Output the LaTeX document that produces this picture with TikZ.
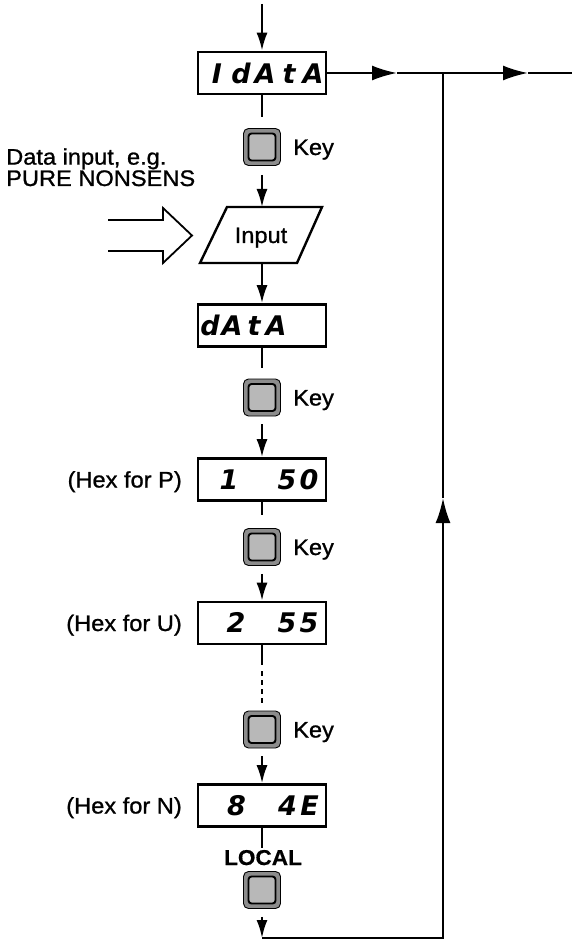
\documentclass[tikz,border=0pt]{standalone}
\usepackage{fontspec}
\setmainfont{Liberation Sans}
\newfontfamily\lab[FakeStretch=1.05,FakeBold=1]{Liberation Sans}
\newfontfamily\labb[FakeStretch=1.05,FakeBold=0.6]{Liberation Sans}
\newfontfamily\segf{DejaVu Sans}
\usetikzlibrary{arrows.meta}
\newcommand\sgc[2]{\makebox[#1]{#2}}
\tikzset{
 disp/.style={draw, line width=2.6pt, minimum width=128pt, minimum height=42pt, inner sep=0pt},
 keyo/.style={draw, line width=0.9pt, rounded corners=5pt, fill=black!45, minimum size=37pt, inner sep=0pt},
 keyi/.style={draw, line width=1.9pt, rounded corners=3pt, fill=black!28, minimum size=27pt, inner sep=0pt},
 ln/.style={line width=2.2pt},
 va/.style={ln, -{Latex[length=18pt,width=11pt]}},
 ha/.style={ln, -{Latex[length=25pt,width=15pt]}},
 lbl/.style={font=\lab\fontsize{22.5}{19.5}\selectfont, inner sep=0pt},
 bl/.style={font=\labb\bfseries\fontsize{21.5}{19}\selectfont, inner sep=0pt},
 seg/.style={font=\segf\bfseries\itshape\fontsize{27}{27}\selectfont, inner sep=0pt},
}
\begin{document}
\begin{tikzpicture}[x=1pt,y=-1pt]
\useasboundingbox (0,0) rectangle (572,949);
% displays
\node[disp] (idata) at (262,73) {};
\node[seg] (idatat) at (265,73) {\sgc{24pt}{I}\sgc{24pt}{d}\sgc{24pt}{A}\sgc{24pt}{t}\sgc{24pt}{A}};
\node[disp] (data) at (262,325.5) {};
\node[seg] (datat) at (243,325.5) {\sgc{22pt}{d}\sgc{22pt}{A}\sgc{22pt}{t}\sgc{22pt}{A}};
\node[disp] (b1) at (262,479.5) {};
\node[seg] (b1t) at (269,479.5) {\sgc{22pt}{1}\hspace*{36pt}\sgc{22pt}{5}\sgc{22pt}{0}};
\node[disp] (b2) at (262,623) {};
\node[seg] (b2t) at (272.5,623) {\sgc{22pt}{2}\hspace*{29pt}\sgc{22pt}{5}\sgc{22pt}{5}};
\node[disp] (b3) at (262,805.5) {};
\node[seg] (b3t) at (273,805.5) {\sgc{22pt}{8}\hspace*{29pt}\sgc{22pt}{4}\sgc{22pt}{E}};
% keys
\foreach \n/\yy in {k1/147,k2/397.5,k3/547,k4/729.5,k5/890}{
  \node[keyo] (\n) at (262,\yy) {};
  \node[keyi] (\n i) at (262,\yy) {};
}
% key labels
\node[lbl, anchor=base west] (kl1) at (293,155) {Key};
\node[lbl, anchor=base west] (kl2) at (293,405.5) {Key};
\node[lbl, anchor=base west] (kl3) at (293,555) {Key};
\node[lbl, anchor=base west] (kl4) at (293,737.5) {Key};
\node[bl, anchor=base] (local) at (263,865) {LOCAL};
% hex labels
\node[lbl, anchor=base east] (hp) at (182,487.5) {(Hex for P)};
\node[lbl, anchor=base east] (hu) at (182,631) {(Hex for U)};
\node[lbl, anchor=base east] (hn) at (182,813.5) {(Hex for N)};
% input parallelogram
\draw[line width=2.4pt] (227,207) -- (322,207) -- (297,263) -- (200,263) -- cycle;
\node[lbl, anchor=base] (inp) at (261,243) {Input};
\coordinate (intop) at (262,207);
\coordinate (inbot) at (262,263);
% data input text and hollow arrow
\node[lbl, anchor=base west, align=left] (din) at (6,186) {Data input, e.g.\\PURE NONSENS};
\draw[line width=1.8pt] (108,220) -- (163,220) -- (163,208) -- (192,235.5) -- (163,263) -- (163,251) -- (108,251);
% coordinates
\coordinate (top) at (262,4);
\coordinate (a1) at (397,73);
\coordinate (j) at (443,73);
\coordinate (a2) at (528,73);
\coordinate (out) at (572,73);
\coordinate (bl) at (262,938);
\coordinate (br) at (443,938);
\coordinate (upt) at (443,498);
\coordinate (d1) at (262,665);
\coordinate (d1b) at (262,671);
\coordinate (d2) at (262,706);
% connectors
\draw[va] (top) -- (idata.north);
\draw[ln, shorten >=11pt] (idata.south) -- (k1.north);
\draw[va, shorten <=9pt] (k1.south) -- (intop);
\draw[va] (inbot) -- (data.north);
\draw[ln, shorten >=11pt] (data.south) -- (k2.north);
\draw[va, shorten <=8pt] (k2.south) -- (b1.north);
\draw[ln, shorten >=13pt] (b1.south) -- (k3.north);
\draw[va, shorten <=8pt] (k3.south) -- (b2.north);
\draw[ln] (b2.south) -- (d1);
\draw[ln, dash pattern=on 5pt off 4pt] (d1b) -- (d2);
\draw[va, shorten <=8pt] (k4.south) -- (b3.north);
\draw[ln, shorten >=23pt] (b3.south) -- (k5.north);
\draw[va, shorten <=8pt] (k5.south) -- (bl);
\draw[ha] (idata.east) -- (a1);
\draw[ha] (a1) -- (a2);
\draw[ln] (a2) -- (out);
\draw[ha] (bl) -- (br) -- (upt);
\draw[ln] (upt) -- (j);
\end{tikzpicture}
\end{document}
